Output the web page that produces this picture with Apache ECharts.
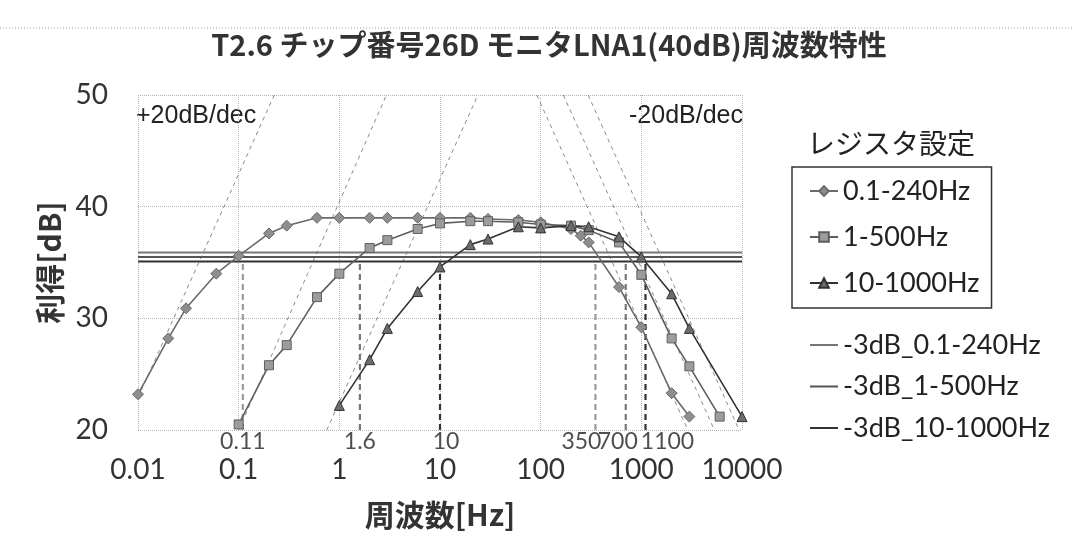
<!DOCTYPE html>
<html>
<head>
<meta charset="utf-8">
<script src="https://cdn.jsdelivr.net/npm/echarts@6/dist/echarts.min.js"></script>
<style>
  html, body { margin: 0; padding: 0; background: #fff; }
  #chart { width: 1074px; height: 553px; }
</style>
</head>
<body>
<div id="chart"></div>
<script>
// measured gain [dB] vs frequency [Hz] per register setting
const freqS1 = [0.01, 0.02, 0.03, 0.06, 0.1, 0.2, 0.3, 0.6, 1, 2, 3, 6, 10, 20, 30, 60, 100, 200, 250, 300, 600, 1000, 2000, 3000]
const gainS1 = [23.2, 28.2, 30.9, 34.0, 35.6, 37.6, 38.3, 39.0, 39.0, 39.0, 39.0, 39.0, 39.0, 39.0, 38.9, 38.8, 38.6, 38.0, 37.4, 36.8, 32.8, 29.2, 23.3, 21.2]
const freqS2 = [0.1, 0.2, 0.3, 0.6, 1, 2, 3, 6, 10, 20, 30, 60, 100, 200, 300, 600, 1000, 2000, 3000, 6000]
const gainS2 = [20.5, 25.8, 27.6, 31.9, 34.0, 36.3, 37.0, 38.0, 38.5, 38.7, 38.7, 38.6, 38.4, 38.3, 37.9, 36.8, 33.9, 28.2, 25.7, 21.2]
const freqS3 = [1, 2, 3, 6, 10, 20, 30, 60, 100, 200, 300, 600, 1000, 2000, 3000, 10000]
const gainS3 = [22.2, 26.3, 29.1, 32.4, 34.6, 36.6, 37.1, 38.2, 38.1, 38.3, 38.2, 37.3, 35.5, 32.2, 29.1, 21.2]

const seriesNames = ['0.1-240Hz', '1-500Hz', '10-1000Hz']
const levelNames = ['-3dB_0.1-240Hz', '-3dB_1-500Hz', '-3dB_10-1000Hz']
const level3dB = [35.9, 35.5, 35.1]

// -3dB cutoff frequencies (dashed verticals + labels)
const cutFreq = [0.11, 1.6, 10, 350, 700, 1100]
const cutText = ['0.11', '1.6', '10', '350', '700', '1100']
const cutTop = 35.0

// +/-20dB/dec asymptotes, [freq, dB] end points
const riseLines = [
  [[0.01, 22.9], [0.2256, 50]],
  [[0.1, 20], [2.94, 50]],
  [[0.75, 20], [23.8, 50]],
]
const fallLines = [
  [[91.6, 50], [2897, 20]],
  [[168, 50], [5313, 20]],
  [[296, 50], [9360, 20]],
]

const xMin = 0.01
const xMax = 10000
const yTicks = [20, 30, 40, 50]

// styling
const LAT = 'Lato, "Noto Sans CJK JP", sans-serif'
const JP = '"Noto Sans CJK JP", sans-serif'
const markerStyle = [
  { symbol: 'diamond', size: 11, fill: '#8e8e8e', line: '#6a6a6a' },
  { symbol: 'rect', size: 9, fill: '#9c9c9c', line: '#5e5e5e' },
  { symbol: 'triangle', size: 10, fill: '#6c6c6c', line: '#333333' },
]
const cutColor = ['#9a9a9a', '#777777', '#333333', '#9a9a9a', '#777777', '#333333']
const cutShift = [0, 0, 6, -14, -8, 22]
const levelColor = ['#777777', '#555555', '#333333']

const zip = (xs, ys) => xs.map((x, i) => [x, ys[i]])

const series = []

riseLines.concat(fallLines).forEach((pts) => {
  series.push({
    type: 'line',
    data: pts,
    symbol: 'none',
    silent: true,
    lineStyle: { color: '#8a8a8a', width: 1, type: [4, 4] },
    z: 1,
  })
})

cutFreq.forEach((f, i) => {
  series.push({
    type: 'line',
    data: [[f, 20], [f, cutTop]],
    symbol: 'none',
    silent: true,
    lineStyle: { color: cutColor[i], width: 2.2, type: [6, 4] },
    z: 2,
  })
  series.push({
    type: 'scatter',
    data: [[f, 20]],
    symbolSize: 0,
    silent: true,
    label: {
      show: true,
      position: 'bottom',
      distance: 0,
      offset: [cutShift[i], 0],
      formatter: cutText[i],
      fontFamily: LAT,
      fontSize: 23,
      color: '#222',
    },
  })
})

level3dB.forEach((lv, i) => {
  series.push({
    name: levelNames[i],
    type: 'line',
    data: [[xMin, lv], [xMax, lv]],
    symbol: 'none',
    lineStyle: { color: levelColor[i], width: 2 },
    itemStyle: { color: levelColor[i] },
    z: 3,
  })
})

const allFreq = [freqS1, freqS2, freqS3]
const allGain = [gainS1, gainS2, gainS3]
seriesNames.forEach((name, i) => {
  const m = markerStyle[i]
  series.push({
    name,
    type: 'line',
    data: zip(allFreq[i], allGain[i]),
    symbol: m.symbol,
    symbolSize: m.size,
    showSymbol: true,
    itemStyle: { color: m.fill, borderColor: m.line, borderWidth: 1 },
    lineStyle: { color: m.line, width: 1.6 },
    z: 5,
  })
})

const fmtFreq = (v) => {
  if (v >= 1) return String(Math.round(v))
  return String(+v.toPrecision(1))
}

const chart = echarts.init(document.getElementById('chart'))
chart.setOption({
  animation: false,
  backgroundColor: '#fff',
  grid: { left: 138, right: 332, top: 95, bottom: 123 },
  xAxis: {
    type: 'log',
    logBase: 10,
    min: xMin,
    max: xMax,
    name: '周波数[Hz]',
    nameLocation: 'middle',
    nameGap: 70,
    nameTextStyle: { fontFamily: JP, fontSize: 30, fontWeight: 'bold', color: '#333' },
    axisLine: { show: false },
    axisTick: { show: false },
    axisLabel: { fontFamily: LAT, fontSize: 28, color: '#333', margin: 26, formatter: fmtFreq },
    splitLine: { show: true, lineStyle: { color: '#b5b5b5', type: 'dotted', width: 1 } },
  },
  yAxis: {
    type: 'value',
    min: yTicks[0],
    max: yTicks[yTicks.length - 1],
    interval: 10,
    name: '利得[dB]',
    nameLocation: 'middle',
    nameGap: 72,
    nameTextStyle: { fontFamily: JP, fontSize: 30, fontWeight: 'bold', color: '#333' },
    axisLine: { show: false },
    axisTick: { show: false },
    axisLabel: { fontFamily: LAT, fontSize: 28, color: '#333', margin: 30 },
    splitLine: { show: true, lineStyle: { color: '#b5b5b5', type: 'dotted', width: 1 } },
  },
  legend: [
    {
      data: seriesNames,
      orient: 'vertical',
      left: 792,
      top: 167,
      padding: [9, 12, 10, 17],
      borderColor: '#333',
      borderWidth: 1.5,
      itemGap: 16,
      itemWidth: 28,
      itemHeight: 12,
      selectedMode: false,
      textStyle: { fontFamily: LAT, fontSize: 27, color: '#222', lineHeight: 30 },
    },
    {
      data: levelNames.map((name) => ({ name, icon: 'rect' })),
      orient: 'vertical',
      left: 810,
      top: 330,
      padding: 0,
      itemGap: 11.5,
      itemWidth: 28,
      itemHeight: 2,
      selectedMode: false,
      textStyle: { fontFamily: LAT, fontSize: 27, color: '#222', lineHeight: 30 },
    },
  ],
  graphic: [
    {
      type: 'line',
      shape: { x1: 0, y1: 28, x2: 1074, y2: 28 },
      style: { stroke: '#999', lineWidth: 1, lineDash: [1, 2] },
    },
    {
      type: 'text',
      x: 549,
      y: 45,
      style: {
        text: 'T2.6 チップ番号26D モニタLNA1(40dB)周波数特性',
        font: 'bold 29px "Noto Sans CJK JP", sans-serif',
        fill: '#333',
        align: 'center',
        verticalAlign: 'middle',
      },
    },
    {
      type: 'text',
      x: 807,
      y: 143,
      style: {
        text: 'レジスタ設定',
        font: '28px "Noto Sans CJK JP", sans-serif',
        fill: '#222',
        verticalAlign: 'middle',
      },
    },
    {
      type: 'text',
      x: 136,
      y: 116,
      style: {
        text: '+20dB/dec',
        font: '25px "Liberation Sans", Arial, sans-serif',
        fill: '#222',
        verticalAlign: 'middle',
      },
    },
    {
      type: 'text',
      x: 743,
      y: 116,
      style: {
        text: '-20dB/dec',
        font: '25px "Liberation Sans", Arial, sans-serif',
        fill: '#222',
        align: 'right',
        verticalAlign: 'middle',
      },
    },
  ],
  series,
})
</script>
</body>
</html>
